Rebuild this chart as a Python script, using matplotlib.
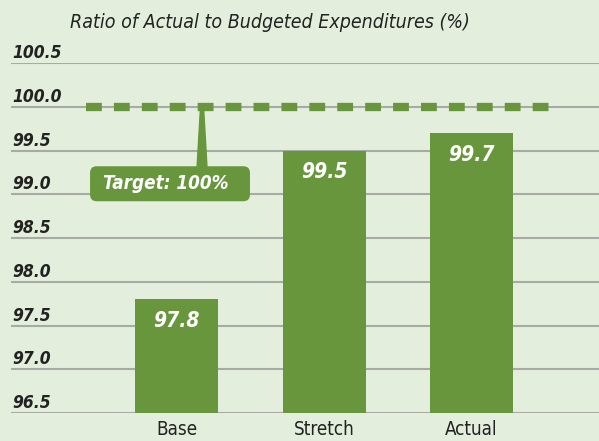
import numpy as np
import matplotlib.pyplot as plt
from matplotlib.patches import Polygon, FancyBboxPatch

plt.rcParams['font.family'] = ['DejaVu Sans']
plt.rcParams['font.stretch'] = 'condensed'

categories = ["Base", "Stretch", "Actual"]
values = [97.8, 99.5, 99.7]
value_labels = ["97.8", "99.5", "99.7"]
target = 100.0
y_ticks = [96.5, 97.0, 97.5, 98.0, 98.5, 99.0, 99.5, 100.0, 100.5]

bg = "#e3efdc"
green = "#67963c"

fig = plt.figure(figsize=(5.99, 4.41), dpi=100, facecolor=bg)
ax = fig.add_axes([11 / 599, 28 / 441, 588 / 599, 350 / 441], facecolor=bg)

x = np.arange(len(categories))
ax.bar(x, values, 0.563, color=green, zorder=2)
ax.set_xlim(-1.122, 2.864)
ax.set_ylim(96.5, 100.5)

# grid
ax.set_yticks(y_ticks)
ax.yaxis.grid(True, color="#a8aba5", linewidth=1.5)
ax.set_axisbelow(True)
ax.tick_params(axis="y", length=0, labelleft=False)
for t in y_ticks:
    ax.text(0.002, t + 0.057, f"{t:.1f}", transform=ax.get_yaxis_transform(),
            ha="left", va="baseline", fontsize=12.5, fontweight="bold",
            fontstyle="italic", color="#222222")
for s in ax.spines.values():
    s.set_visible(False)

ax.set_xticks(x)
ax.set_xticklabels(categories, fontsize=13.5, color="#222222")
ax.tick_params(axis="x", length=0, pad=5)

# value labels inside bars
for xi, v, lab in zip(x, values, value_labels):
    ax.text(xi, v - 0.25, lab, ha="center", va="center", color="white",
            fontsize=15, fontweight="bold", fontstyle="italic", zorder=4)

# target line
ax.axhline(target, xmin=0.128, xmax=0.925, color=green, linewidth=6,
           dashes=(1.9, 1.45), solid_capstyle="butt", dash_capstyle="butt", zorder=3)

# callout
tip_x = 0.173
box_x0, box_x1 = -0.586, 0.498
box_y0, box_y1 = 98.92, 99.32
ax.add_patch(Polygon([[tip_x - 0.01, target], [tip_x + 0.01, target],
                      [tip_x + 0.035, box_y1 - 0.05], [tip_x - 0.035, box_y1 - 0.05]],
                     closed=True, color=green, zorder=3))
ax.add_patch(FancyBboxPatch((box_x0, box_y0), box_x1 - box_x0, box_y1 - box_y0,
                            boxstyle="round,pad=0,rounding_size=0.045",
                            mutation_aspect=147.5 / 87.5, fc=green, ec="none", zorder=3))
ax.text(-0.07, (box_y0 + box_y1) / 2, "Target: 100%", ha="center", va="center",
        color="white", fontsize=13.5, fontweight="bold", fontstyle="italic", zorder=4)

fig.text(70 / 599, 1 - 22 / 441, "Ratio of Actual to Budgeted Expenditures (%)",
         ha="left", va="center", fontsize=14, fontstyle="italic", color="#222222")

fig.savefig("out.png", dpi=100, facecolor=bg)
